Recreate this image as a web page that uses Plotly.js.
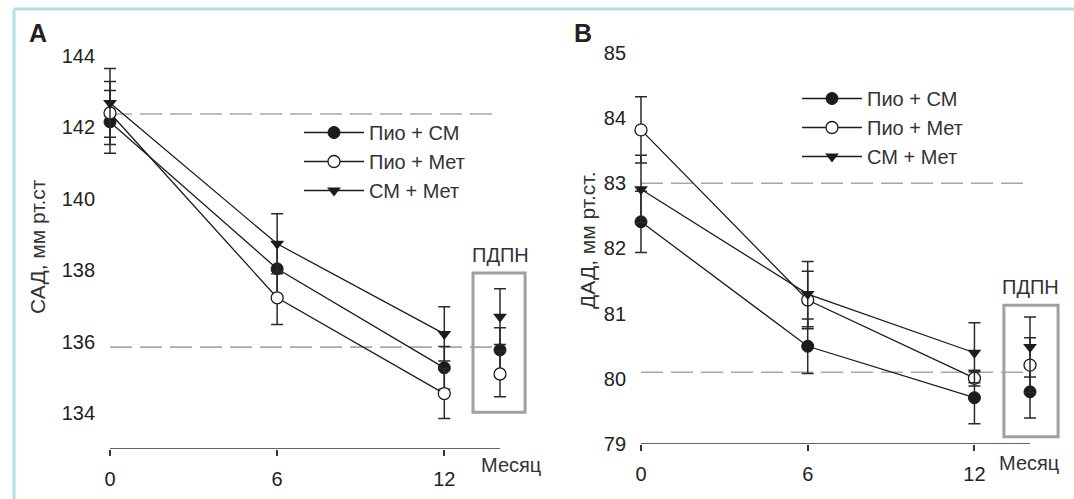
<!DOCTYPE html>
<html>
<head>
<meta charset="utf-8">
<script src="https://cdn.plot.ly/plotly-3.0.1.min.js"></script>
<style>html,body{margin:0;padding:0;background:#fff}#chart{width:1074px;height:499px}</style>
</head>
<body>
<div id="chart"></div>
<script>
// ---- data ----
const months = [0, 6, 12];
const seriesNames = ['Пио + СМ', 'Пио + Мет', 'СМ + Мет'];

// Panel A: САД
const sadPioSM = [142.15, 138.04, 135.27];
const sadPioSMErr = [0.88, 0.75, 0.60];
const sadPioMet = [142.40, 137.23, 134.55];
const sadPioMetErr = [0.88, 0.75, 0.70];
const sadSMMet = [142.68, 138.74, 136.22];
const sadSMMetErr = [0.96, 0.84, 0.76];
const sadPdpn = [135.77, 135.10, 136.70];      // Пио+СМ, Пио+Мет, СМ+Мет
const sadPdpnErr = [0.62, 0.64, 0.78];
const sadRefLines = [142.37, 135.85];

// Panel B: ДАД
const dadPioSM = [82.41, 80.50, 79.71];
const dadPioSMErr = [0.47, 0.42, 0.40];
const dadPioMet = [83.82, 81.21, 80.01];
const dadPioMetErr = [0.51, 0.44, 0.12];
const dadSMMet = [82.91, 81.30, 80.40];
const dadSMMetErr = [0.52, 0.50, 0.46];
const dadPdpn = [79.80, 80.21, 80.49];
const dadPdpnErr = [0.40, 0.42, 0.46];
const dadRefLines = [83.0, 80.10];

const sadTicks = [134, 136, 138, 140, 142, 144];
const dadTicks = [79, 80, 81, 82, 83, 84, 85];
const pdpnLabel = 'ПДПН';
const xLabel = 'Месяц';

// ---- styles ----
const INK = '#1c1c1c';
const markerStyles = [
  {symbol: 'circle', size: 12, color: INK, line: {color: INK, width: 1}},
  {symbol: 'circle', size: 12, color: '#ffffff', line: {color: INK, width: 1.3}},
  {symbol: 'triangle-down', size: 12, color: INK, line: {color: INK, width: 0}}
];
const PDPN_X = 14;
const W = 1074, H = 499;
const px = x => x / W;
const py = y => 1 - y / H;

const sadSeries = [[sadPioSM, sadPioSMErr], [sadPioMet, sadPioMetErr], [sadSMMet, sadSMMetErr]];
const dadSeries = [[dadPioSM, dadPioSMErr], [dadPioMet, dadPioMetErr], [dadSMMet, dadSMMetErr]];

function errStyle(arr) {
  return {type: 'data', array: arr, symmetric: true, color: '#2a2a2a', thickness: 1.5, width: 6};
}

const traces = [];
function addPanel(series, pdpn, pdpnErr, xa, ya, legendName) {
  series.forEach((s, i) => {
    traces.push({
      type: 'scatter', mode: 'lines+markers', name: seriesNames[i],
      x: months, y: s[0], error_y: errStyle(s[1]),
      xaxis: xa, yaxis: ya, legend: legendName,
      line: {color: INK, width: 1.3}, marker: markerStyles[i],
      cliponaxis: false, hoverinfo: 'x+y'
    });
  });
  series.forEach((s, i) => {
    traces.push({
      type: 'scatter', mode: 'markers', name: seriesNames[i] + ' (' + pdpnLabel + ')',
      x: [PDPN_X], y: [pdpn[i]], error_y: errStyle([pdpnErr[i]]),
      xaxis: xa, yaxis: ya, showlegend: false,
      marker: markerStyles[i], cliponaxis: false
    });
  });
}
addPanel(sadSeries, sadPdpn, sadPdpnErr, 'x', 'y', 'legend');
addPanel(dadSeries, dadPdpn, dadPdpnErr, 'x2', 'y2', 'legend2');

const shapes = [];
// reference dashed lines
sadRefLines.forEach(v => shapes.push({type: 'line', xref: 'x', yref: 'y', x0: 0, x1: 14, y0: v, y1: v,
  line: {color: '#a8a8a8', width: 1.6, dash: '22px,8px'}, layer: 'below'}));
dadRefLines.forEach(v => shapes.push({type: 'line', xref: 'x2', yref: 'y2', x0: 0, x1: 14, y0: v, y1: v,
  line: {color: '#a8a8a8', width: 1.6, dash: '22px,8px'}, layer: 'below'}));
// x axis lines
shapes.push({type: 'line', xref: 'x', yref: 'y', x0: 0, x1: 14, y0: 133, y1: 133, line: {color: '#333', width: 1.5}});
shapes.push({type: 'line', xref: 'x2', yref: 'y2', x0: 0, x1: 14, y0: 79, y1: 79, line: {color: '#333', width: 1.5}});
// ПДПН boxes
shapes.push({type: 'rect', xref: 'x', yref: 'y', x0: 13.03, x1: 14.9, y0: 134.03, y1: 137.92,
  line: {color: '#a0a0a0', width: 3}, fillcolor: 'rgba(0,0,0,0)'});
shapes.push({type: 'rect', xref: 'x2', yref: 'y2', x0: 13.06, x1: 15.01, y0: 79.11, y1: 81.13,
  line: {color: '#a0a0a0', width: 3}, fillcolor: 'rgba(0,0,0,0)'});
// frame
shapes.push({type: 'line', xref: 'paper', yref: 'paper', x0: px(14), x1: px(14), y0: py(9), y1: 0, line: {color: '#b2e0e6', width: 3}});
shapes.push({type: 'line', xref: 'paper', yref: 'paper', x0: px(14), x1: 1, y0: py(9), y1: py(9), line: {color: '#b2e0e6', width: 3}});

function ann(text, x, y, opts) {
  return Object.assign({text: text, xref: 'paper', yref: 'paper', x: px(x), y: py(y),
    xanchor: 'center', yanchor: 'middle', showarrow: false,
    font: {size: 20, color: '#333'}}, opts || {});
}
const annotations = [
  ann('<b>A</b>', 38, 33, {font: {size: 25, color: '#222'}}),
  ann('<b>B</b>', 583, 33, {font: {size: 25, color: '#222'}}),
  ann('САД, мм рт.ст', 38, 247, {textangle: -90, font: {size: 21, color: '#333'}}),
  ann('ДАД, мм рт.ст.', 587, 240, {textangle: -90, font: {size: 21, color: '#333'}}),
  ann(xLabel, 511, 465),
  ann(xLabel, 1029, 463),
  ann(pdpnLabel, 500, 255),
  ann(pdpnLabel, 1030, 287)
];

const axCommonX = {range: [-0.5, 15.5], tickvals: months, ticks: 'outside', ticklen: 6, tickwidth: 1.5,
  tickcolor: '#333', showgrid: false, zeroline: false, showline: false, ticklabelstandoff: 6,
  tickfont: {size: 20, color: '#222'}, fixedrange: true};
const axCommonY = {showgrid: false, zeroline: false, showline: false, ticks: '',
  tickfont: {size: 20, color: '#222'}, fixedrange: true};

const layout = {
  width: W, height: H, margin: {l: 0, r: 0, t: 0, b: 0},
  paper_bgcolor: '#ffffff', plot_bgcolor: 'rgba(0,0,0,0)',
  font: {family: 'Liberation Sans, Arial, sans-serif', size: 20, color: '#222'},
  showlegend: true,
  xaxis: Object.assign({}, axCommonX, {domain: [px(96.07), px(541.8)], anchor: 'y'}),
  yaxis: Object.assign({}, axCommonY, {domain: [py(449), py(20)], range: [133, 145], tickvals: sadTicks, anchor: 'x'}),
  xaxis2: Object.assign({}, axCommonX, {domain: [px(627.1), px(1071.7)], anchor: 'y2'}),
  yaxis2: Object.assign({}, axCommonY, {domain: [py(444), py(20.4)], range: [79, 85.5], tickvals: dadTicks, anchor: 'x2'}),
  legend: {x: px(299), y: py(113), xanchor: 'left', yanchor: 'top', itemwidth: 60,
    font: {size: 20, color: '#333'}, bgcolor: 'rgba(0,0,0,0)', tracegroupgap: 0},
  legend2: {x: px(797), y: py(79), xanchor: 'left', yanchor: 'top', itemwidth: 60,
    font: {size: 20, color: '#333'}, bgcolor: 'rgba(0,0,0,0)', tracegroupgap: 0},
  shapes: shapes,
  annotations: annotations
};

Plotly.newPlot('chart', traces, layout, {displayModeBar: false, responsive: false});
</script>
</body>
</html>
